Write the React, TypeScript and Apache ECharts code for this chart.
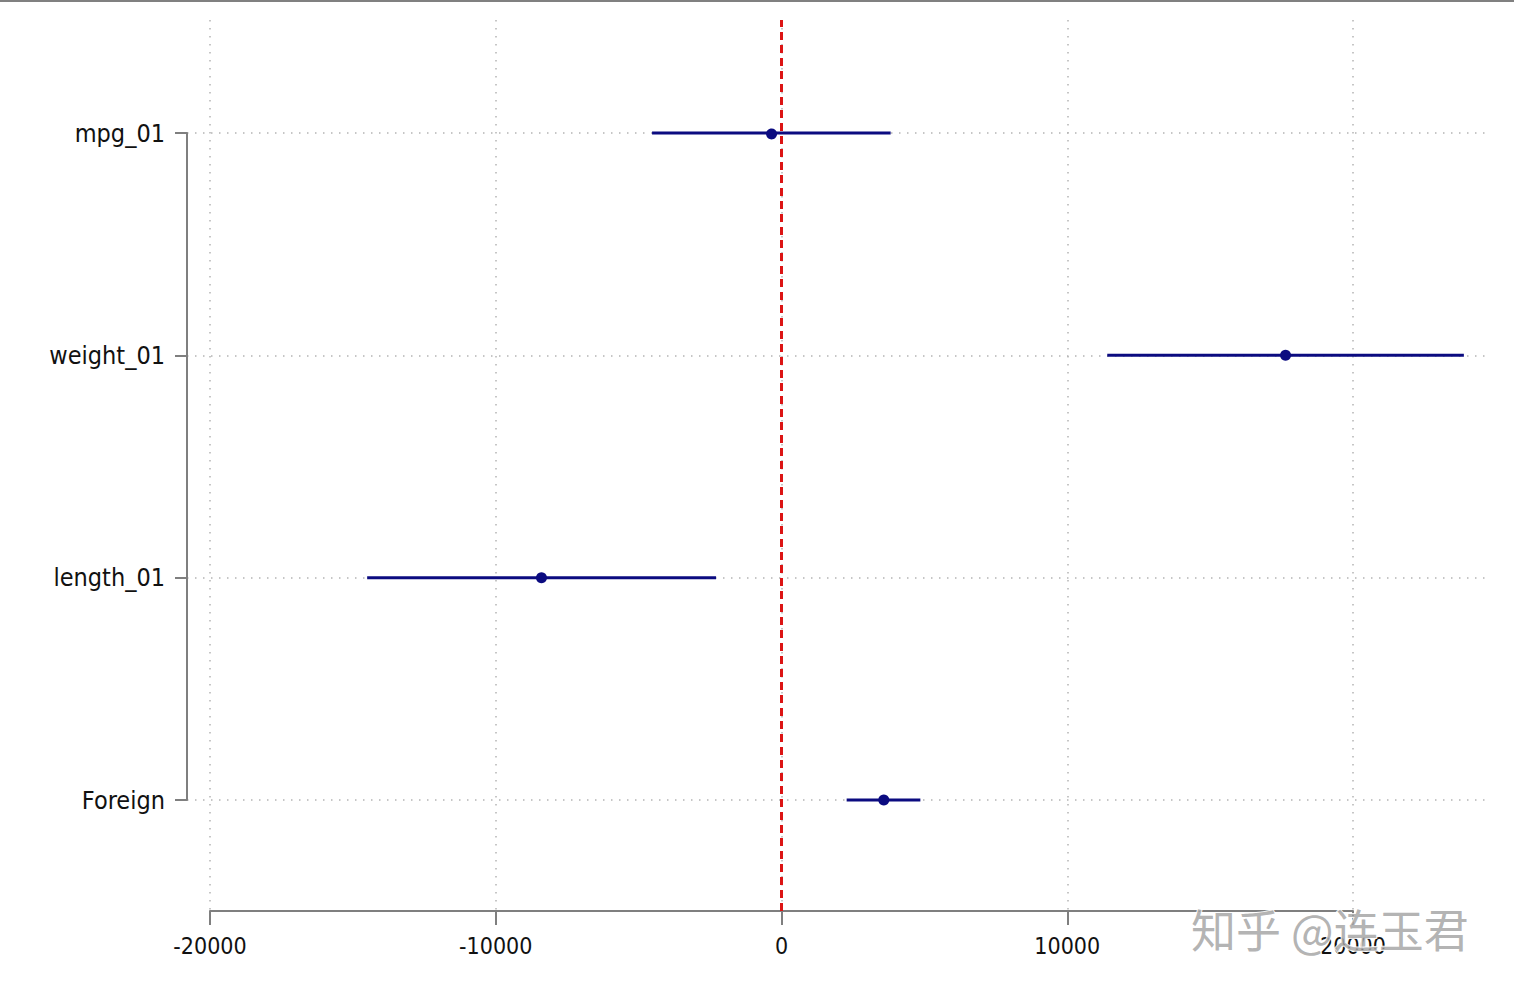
import React, { useEffect, useRef } from "react";
import * as echarts from "echarts";

// ---- data ----
const terms = ["mpg_01", "weight_01", "length_01", "Foreign"];
const estimates = [-350, 17640, -8400, 3580];
const lowerCI = [-4530, 11400, -14500, 2280];
const upperCI = [3820, 23880, -2290, 4860];
const xTicks = [-20000, -10000, 0, 10000, 20000];
const refLine = 0;

const FONT = "'DejaVu Sans Condensed', 'Liberation Sans Narrow', sans-serif";
const AXIS_GRAY = "#7f7f7f";
const GRID_GRAY = "#b4b4b4";
const NAVY = "#0b0b80";

export default function App() {
  const ref = useRef<HTMLDivElement>(null);

  useEffect(() => {
    if (!ref.current) return;
    const chart = echarts.init(ref.current, undefined, { renderer: "svg" });

    const xMin = xTicks[0];
    const xMax = xTicks[xTicks.length - 1];
    const xStep = xTicks[1] - xTicks[0];
    // pixels per unit of the visible tick axis (grid 0)
    const pxPerUnit = (1353 - 210) / (xMax - xMin);
    const plotMin = xMin - (210 - 187) / pxPerUnit;
    const plotMax = xMax + (1488 - 1353) / pxPerUnit;

    const yCats = terms.slice().reverse();
    const rows = terms.map((t, i) => [t, lowerCI[i], estimates[i], upperCI[i]]);

    const option: any = {
      animation: false,
      backgroundColor: "#ffffff",
      grid: [
        { left: 210, right: 1514 - 1353, top: 20, bottom: 996 - 911, containLabel: false },
        { left: 187, right: 1514 - 1488, top: 133, bottom: 996 - 800, containLabel: false },
      ],
      xAxis: [
        {
          gridIndex: 0,
          type: "value",
          min: xMin,
          max: xMax,
          interval: xStep,
          axisLine: { show: true, onZero: false, lineStyle: { color: AXIS_GRAY, width: 2 } },
          axisTick: { show: true, length: 14, lineStyle: { color: AXIS_GRAY, width: 2 } },
          axisLabel: {
            show: true,
            margin: 23,
            fontSize: 23,
            fontFamily: FONT,
            color: "#111111",
            formatter: (v: number) => String(v),
          },
          splitLine: {
            show: true,
            lineStyle: { color: GRID_GRAY, width: 1.5, type: [1.5, 6.5] },
          },
        },
        {
          gridIndex: 1,
          type: "value",
          min: plotMin,
          max: plotMax,
          show: false,
          splitLine: { show: false },
        },
      ],
      yAxis: [
        {
          gridIndex: 0,
          type: "value",
          min: 0,
          max: 1,
          show: false,
          splitLine: { show: false },
        },
        {
          gridIndex: 1,
          type: "category",
          data: yCats,
          boundaryGap: false,
          axisLine: { show: true, onZero: false, lineStyle: { color: AXIS_GRAY, width: 2 } },
          axisTick: { show: true, length: 12, alignWithLabel: true, lineStyle: { color: AXIS_GRAY, width: 2 } },
          axisLabel: {
            show: true,
            margin: 22,
            fontSize: 25,
            fontFamily: FONT,
            color: "#111111",
          },
          splitLine: {
            show: true,
            lineStyle: { color: GRID_GRAY, width: 1.5, type: [1.5, 6.5] },
          },
        },
      ],
      series: [
        {
          type: "line",
          xAxisIndex: 0,
          yAxisIndex: 0,
          data: [],
          silent: true,
          markLine: {
            silent: true,
            symbol: ["none", "none"],
            label: { show: false },
            lineStyle: { color: "#dc1414", width: 3, type: [8, 5] },
            data: [{ xAxis: refLine }],
          },
        },
        {
          type: "custom",
          xAxisIndex: 1,
          yAxisIndex: 1,
          data: rows,
          encode: { y: 0, x: [1, 2, 3] },
          z: 5,
          renderItem: (_params: any, api: any) => {
            const cat = api.value(0);
            const lo = api.coord([api.value(1), cat]);
            const mid = api.coord([api.value(2), cat]);
            const hi = api.coord([api.value(3), cat]);
            return {
              type: "group",
              children: [
                {
                  type: "line",
                  shape: { x1: lo[0], y1: lo[1], x2: hi[0], y2: hi[1] },
                  style: { stroke: NAVY, lineWidth: 3 },
                },
                {
                  type: "circle",
                  shape: { cx: mid[0], cy: mid[1], r: 5.5 },
                  style: { fill: NAVY, stroke: NAVY, lineWidth: 0 },
                },
              ],
            };
          },
        },
      ],
      graphic: [
        {
          type: "rect",
          left: 0,
          top: 0,
          shape: { x: 0, y: 0, width: 1514, height: 2 },
          style: { fill: "#808080" },
          z: 100,
        },
        {
          type: "text",
          left: 1190,
          top: 905,
          z: 100,
          style: {
            text: "知乎 @连玉君",
            fontSize: 45,
            fontFamily: "'Noto Sans CJK SC', sans-serif",
            fill: "rgba(160,160,160,0.8)",
            stroke: "rgba(255,255,255,0.9)",
            lineWidth: 2,
          },
        },
      ],
    };

    chart.setOption(option);
    return () => {
      chart.dispose();
    };
  }, []);

  return (
    <div
      ref={ref}
      style={{ position: "fixed", left: 0, top: 0, width: 1514, height: 996, background: "#fff" }}
    />
  );
}
